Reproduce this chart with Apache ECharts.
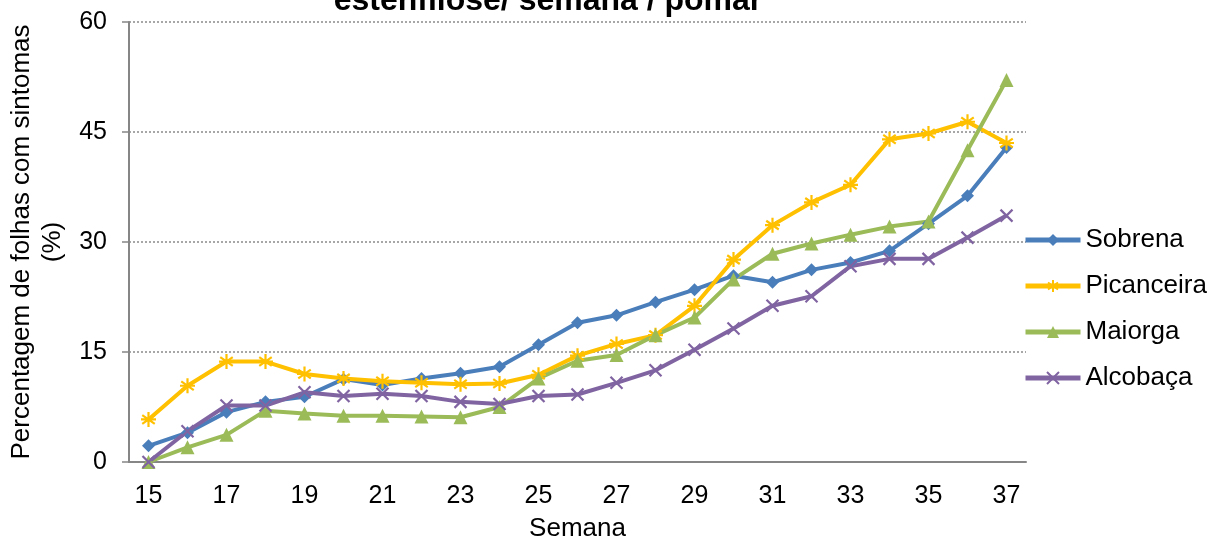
<!DOCTYPE html>
<html><head><meta charset="utf-8">
<script src="https://cdn.jsdelivr.net/npm/echarts@6/dist/echarts.min.js"></script>
<style>html,body{margin:0;padding:0;background:#fff}#c{width:1207px;height:537px}</style>
</head><body><div id="c"></div>
<script>
const weeks = ['15','16','17','18','19','20','21','22','23','24','25','26','27','28','29','30','31','32','33','34','35','36','37'];
const sobrena = [2.2,4.0,6.8,8.2,8.9,11.3,10.5,11.4,12.1,13.0,16.0,19.0,20.0,21.8,23.5,25.4,24.5,26.2,27.2,28.8,32.5,36.3,42.9];
const picanceira = [5.8,10.4,13.7,13.7,12.0,11.4,11.0,10.8,10.6,10.7,11.9,14.5,16.1,17.3,21.3,27.6,32.3,35.4,37.8,44.0,44.8,46.4,43.5];
const maiorga = [0.0,2.0,3.7,7.0,6.6,6.3,6.3,6.2,6.1,7.5,11.4,13.8,14.6,17.3,19.7,24.9,28.4,29.8,31.0,32.1,32.8,42.5,52.1];
const alcobaca = [0.0,4.2,7.7,7.7,9.5,9.0,9.3,9.0,8.2,7.9,9.0,9.2,10.8,12.5,15.3,18.2,21.3,22.6,26.7,27.7,27.7,30.6,33.6];
const seriesNames = ['Sobrena','Picanceira','Maiorga','Alcobaça'];
const titleText = 'estenfilose/ semana / pomar';
const yName = 'Percentagem de folhas com sintomas\n(%)';
const xName = 'Semana';

const FONT = 'Liberation Sans, Arial, sans-serif';
const colors = ['#4a7ebb','#ffc000','#9bbb59','#8064a2'];
const star = 'path://M0,-6L0,6M-5,-3.5L5,3.5M-5,3.5L5,-3.5M-6,0L6,0';
const cross = 'path://M-5,-5L5,5M-5,5L5,-5';
function mk(name, data, color, symbol, size, stroke){
  return {
    name, type:'line', data, symbol, symbolSize:size, showSymbol:true,
    lineStyle:{color, width:4},
    itemStyle: stroke ? {color:'none', borderColor:color, borderWidth:2.2} : {color, borderColor:color, borderWidth:0},
    emphasis:{disabled:true}, animation:false, z: 2
  };
}
const chart = echarts.init(document.getElementById('c'), null, {renderer:'canvas'});
chart.setOption({
  animation:false,
  color: colors,
  textStyle:{fontFamily:FONT},
  title:{text:titleText, left:548, textAlign:'center', top:-15, padding:0,
    textStyle:{fontFamily:FONT, fontSize:32, fontWeight:'bold', color:'#000'}},
  grid:{left:129, top:22, right:181, bottom:75, containLabel:false, outerBoundsMode:'none'},
  legend:{orient:'vertical', left:1023, top:227, padding:0, itemGap:20, itemWidth:55, itemHeight:15,
    lineStyle:{width:5},
    textStyle:{fontFamily:FONT, fontSize:26, color:'#000'},
    data: seriesNames},
  xAxis:{type:'category', data:weeks, boundaryGap:true,
    name:xName, nameLocation:'middle', nameGap:54,
    nameTextStyle:{fontFamily:FONT, fontSize:26, color:'#000', verticalAlign:'top'},
    axisLine:{lineStyle:{color:'#868686', width:2}},
    axisTick:{alignWithLabel:true, interval:0, length:7, lineStyle:{color:'#868686', width:1.5}},
    axisLabel:{interval:1, fontFamily:FONT, fontSize:25, color:'#000', margin:22},
    splitLine:{show:false}},
  yAxis:{type:'value', min:0, max:60, interval:15,
    name:yName, nameLocation:'middle', nameGap:59, nameRotate:90,
    nameTextStyle:{fontFamily:FONT, fontSize:26, color:'#000', lineHeight:31},
    axisLine:{show:true, lineStyle:{color:'#868686', width:2}},
    axisTick:{show:true, length:7, lineStyle:{color:'#868686', width:1.5}},
    axisLabel:{fontFamily:FONT, fontSize:25, color:'#000', margin:22},
    splitLine:{show:true, lineStyle:{color:'#8a8a8a', type:[2,2], width:1.5}}},
  series:[
    mk(seriesNames[0], sobrena, colors[0], 'diamond', 13, false),
    mk(seriesNames[1], picanceira, colors[1], star, 15, true),
    mk(seriesNames[2], maiorga, colors[2], 'triangle', 14, false),
    mk(seriesNames[3], alcobaca, colors[3], cross, 12, true)
  ]
});
</script></body></html>
